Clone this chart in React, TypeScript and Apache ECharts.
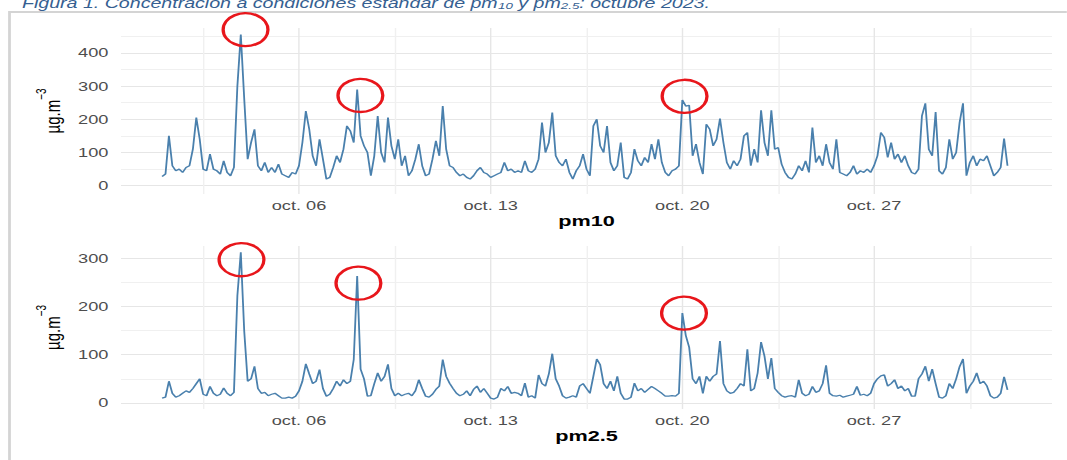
import React, { useEffect, useRef } from "react";
import * as echarts from "echarts";

// The reference picture is horizontally stretched; we render at a narrower width and stretch it back.
const STRETCH = 1.4;
const CHART_W = 1067 / STRETCH;
const CHART_H = 460;
const FONT = "'Liberation Sans', Arial, sans-serif";

// Hourly data shown at 3-hour resolution: 8 readings per day, Oct 1 .. Oct 31
const SLOTS_PER_DAY = 8;

const xTickDays = [5, 12, 19, 26];
const xTickLabels = ["oct. 06", "oct. 13", "oct. 20", "oct. 27"];
const pm10Ticks = [0, 100, 200, 300, 400];
const pm25Ticks = [0, 100, 200, 300];

// pm10 (µg/m3), one row per day
const pm10 = [
  28, 35, 150, 60, 45, 50, 40, 55,
  60, 110, 205, 140, 50, 45, 95, 50,
  45, 35, 75, 40, 30, 55, 300, 455,
  262, 80, 130, 170, 60, 45, 70, 40,
  55, 40, 65, 35, 30, 25, 40, 35,
  60, 130, 225, 170, 90, 60, 140, 80,
  20, 25, 55, 90, 70, 110, 180, 165,
  130, 290, 150, 120, 100, 30, 90, 210,
  100, 70, 205, 120, 80, 140, 60, 90,
  30, 45, 80, 125, 60, 30, 35, 80,
  135, 90, 240, 110, 60, 55, 40, 30,
  35, 25, 20, 30, 45, 55, 40, 35,
  25, 30, 35, 40, 70, 45, 50, 40,
  45, 40, 75, 45, 40, 50, 80, 190,
  100, 130, 220, 90, 70, 60, 80, 40,
  20, 45, 60, 95, 50, 30, 180, 200,
  120, 100, 180, 70, 45, 60, 130, 25,
  20, 40, 110, 75, 60, 85, 70, 125,
  80, 140, 70, 40, 30, 45, 50, 60,
  258, 240, 242, 90, 125, 70, 35, 185,
  170, 120, 140, 202, 130, 70, 50, 75,
  60, 80, 150, 160, 60, 110, 70, 227,
  130, 90, 227, 110, 115, 65, 40, 25,
  20, 35, 60, 45, 75, 40, 175, 70,
  90, 60, 125, 70, 50, 140, 40, 35,
  30, 40, 60, 35, 45, 40, 50, 40,
  60, 90, 160, 145, 85, 130, 80, 95,
  70, 90, 60, 40, 35, 50, 210, 248,
  110, 90, 222, 45, 35, 55, 140, 80,
  100, 190, 248, 30, 70, 90, 60, 80,
  75, 90, 60, 30, 40, 55, 142, 60,
];

// pm2.5 (µg/m3), one row per day
const pm25 = [
  10, 12, 45, 20, 12, 15, 20, 25,
  22, 30, 40, 50, 18, 15, 34, 20,
  15, 18, 31, 20, 15, 22, 222, 312,
  149, 45, 50, 76, 30, 20, 22, 15,
  18, 20, 15, 10, 10, 12, 10, 14,
  25, 45, 81, 60, 40, 45, 69, 30,
  14, 18, 30, 45, 35, 48, 40, 45,
  90, 263, 70, 50, 14, 15, 40, 62,
  45, 55, 80, 30, 15, 20, 15, 18,
  20, 15, 25, 48, 30, 14, 12, 18,
  28, 35, 90, 55, 41, 30, 20, 15,
  18, 25, 15, 28, 35, 22, 30, 20,
  10, 8, 12, 30, 25, 34, 20, 22,
  20, 15, 41, 12, 15, 10, 58, 40,
  35, 60, 102, 50, 35, 15, 10, 12,
  15, 12, 35, 40, 30, 20, 55, 91,
  79, 40, 30, 45, 25, 55, 20, 8,
  8, 12, 41, 25, 30, 22, 28, 34,
  30, 25, 20, 14, 14, 15, 14, 20,
  186, 140, 115, 50, 40, 55, 20, 55,
  45, 55, 60, 128, 40, 25, 20, 22,
  30, 40, 35, 111, 25, 30, 62, 126,
  97, 50, 93, 30, 22, 15, 12, 14,
  15, 12, 48, 20, 15, 18, 34, 22,
  25, 40, 78, 20, 15, 14, 16, 12,
  14, 16, 18, 34, 16, 18, 15, 20,
  40, 50, 56, 58, 35, 40, 48, 30,
  35, 25, 30, 14, 14, 50, 60, 76,
  45, 70, 40, 12, 10, 15, 40, 30,
  50, 75, 91, 20, 35, 45, 62, 40,
  45, 35, 15, 10, 12, 20, 54, 27,
];

// readings that are circled in red (index into the arrays above)
const pm10Circled = [23, 57, 152];
const pm25Circled = [23, 57, 152];

const sx = (px: number) => px / STRETCH;

function toPairs(arr: number[]) {
  return arr.map((v, i) => [Math.floor(i / SLOTS_PER_DAY) + (i % SLOTS_PER_DAY) / SLOTS_PER_DAY, v]);
}

const MAJOR = "#e6e6e6";
const MINOR = "#f0f0f0";
const NONE = "rgba(0,0,0,0)";

export default function App() {
  const ref = useRef<HTMLDivElement>(null);

  useEffect(() => {
    if (!ref.current) return;
    const chart = echarts.init(ref.current, undefined, { renderer: "svg" });

    const xSplitColors = Array.from({ length: 14 }, (_, i) => (i === 13 ? MAJOR : i === 6 ? MINOR : NONE));

    const xAxis = (gridIndex: number, name: string) => ({
      type: "value",
      gridIndex,
      min: -1.5,
      max: 32.5,
      interval: 0.5,
      axisLine: { show: false },
      axisTick: { show: false },
      splitLine: { show: true, lineStyle: { color: xSplitColors, width: 1 } },
      axisLabel: {
        margin: 5,
        color: "#4d4d4d",
        fontSize: 13,
        fontFamily: FONT,
        formatter: (v: number) => {
          const k = xTickDays.findIndex((d) => Math.abs(d - v) < 1e-6);
          return k >= 0 ? xTickLabels[k] : "";
        },
      },
      name,
      nameLocation: "middle",
      nameGap: 19,
      nameTextStyle: { fontSize: 15.5, fontWeight: "bold", color: "#000", fontFamily: FONT },
    });

    const yName = {
      name: "{a|µg.m}{b|−3}",
      nameLocation: "middle",
      nameRotate: 90,
      nameGap: 36,
      nameTextStyle: {
        rich: {
          a: { fontSize: 15, color: "#000", fontFamily: FONT, verticalAlign: "bottom", lineHeight: 20 },
          b: { fontSize: 10, color: "#000", fontFamily: FONT, verticalAlign: "top" },
        },
      },
    };

    const yAxis = (gridIndex: number, min: number, max: number, interval: number, ticks: number[], colors: string[]) => ({
      type: "value",
      gridIndex,
      min,
      max,
      interval,
      axisLine: { show: false },
      axisTick: { show: false },
      splitLine: { show: true, lineStyle: { color: colors, width: 1 } },
      axisLabel: {
        margin: 9,
        color: "#4d4d4d",
        fontSize: 13,
        fontFamily: FONT,
        formatter: (v: number) => (ticks.some((t) => Math.abs(t - v) < 1e-6) ? String(Math.round(v)) : ""),
      },
      ...yName,
    });

    const p10 = toPairs(pm10);
    const p25 = toPairs(pm25);

    const ringStyle = {
      symbol: "circle",
      symbolSize: [32, 33],
      silent: true,
      label: { show: false },
      itemStyle: { color: NONE, borderColor: "#e8161b", borderWidth: 2.4 },
    };
    const pm10Offsets = [[3.4, -5], [2.3, 6], [1.6, -3.7]];
    const pm25Offsets = [[0.5, 7.4], [0.9, 7.2], [1.2, 0]];

    const lineStyle = { color: "#4a80ad", width: 1.3 };

    chart.setOption({
      animation: false,
      grid: [
        { left: sx(121), width: sx(931), top: 28, height: 166 },
        { left: sx(121), width: sx(931), top: 246, height: 163 },
      ],
      xAxis: [xAxis(0, "pm10"), xAxis(1, "pm2.5")],
      yAxis: [
        yAxis(0, -25, 475, 25, pm10Ticks, [NONE, MAJOR, NONE, MINOR]),
        yAxis(1, -12.5, 325, 12.5, pm25Ticks, [NONE, MAJOR, NONE, NONE, NONE, MINOR, NONE, NONE]),
      ],
      series: [
        {
          name: "pm10",
          type: "line",
          xAxisIndex: 0,
          yAxisIndex: 0,
          data: p10,
          showSymbol: false,
          symbol: "none",
          lineStyle,
          markPoint: {
            ...ringStyle,
            data: pm10Circled.map((idx, k) => ({ coord: p10[idx], symbolOffset: pm10Offsets[k] })),
          },
        },
        {
          name: "pm2.5",
          type: "line",
          xAxisIndex: 1,
          yAxisIndex: 1,
          data: p25,
          showSymbol: false,
          symbol: "none",
          lineStyle,
          markPoint: {
            ...ringStyle,
            data: pm25Circled.map((idx, k) => ({ coord: p25[idx], symbolOffset: pm25Offsets[k] })),
          },
        },
      ],
      graphic: [
        { type: "line", silent: true, shape: { x1: sx(9.5), y1: 12, x2: CHART_W, y2: 12 }, style: { stroke: "#d4d4d4", lineWidth: 2 } },
        { type: "line", silent: true, shape: { x1: sx(9.5), y1: 11, x2: sx(9.5), y2: CHART_H }, style: { stroke: "#d4d4d4", lineWidth: 2 } },
        {
          type: "text",
          silent: true,
          x: sx(22),
          y: -4.5,
          style: {
            text: "{t|Figura 1. Concentración a condiciones estándar de pm}{s|10}{t| y pm}{s|2.5}{t|: octubre 2023.}",
            fill: "#365f91",
            rich: {
              t: { fontSize: 14, fontStyle: "italic", fontFamily: FONT, fill: "#365f91", verticalAlign: "bottom", lineHeight: 15 },
              s: { fontSize: 9.5, fontStyle: "italic", fontFamily: FONT, fill: "#365f91", verticalAlign: "bottom" },
            },
          },
        },
      ],
    });

    return () => chart.dispose();
  }, []);

  return (
    <div style={{ position: "absolute", left: 0, top: 0, width: 1067, height: CHART_H, overflow: "hidden", background: "#fff" }}>
      <div
        ref={ref}
        style={{ width: CHART_W, height: CHART_H, transform: `scaleX(${STRETCH})`, transformOrigin: "0 0" }}
      />
    </div>
  );
}
